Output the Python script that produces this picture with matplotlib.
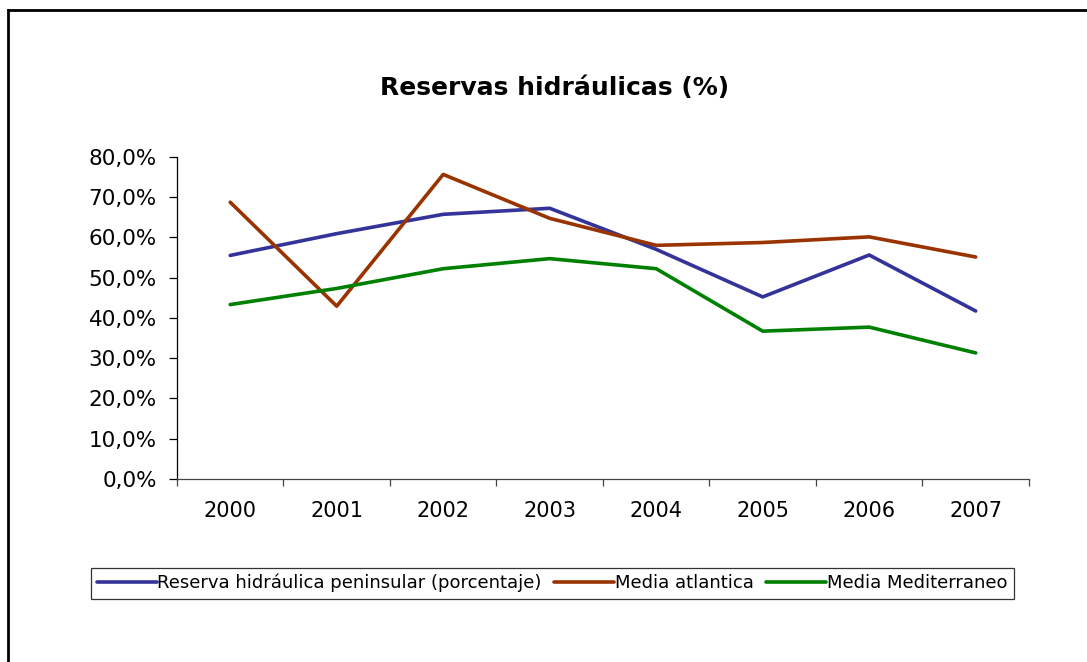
import matplotlib
matplotlib.use("Agg")
import matplotlib.pyplot as plt
from matplotlib.lines import Line2D

years = ["2000", "2001", "2002", "2003", "2004", "2005", "2006", "2007"]
peninsular = [55.5, 60.9, 65.7, 67.2, 57.0, 45.2, 55.6, 41.7]
atlantica = [68.7, 42.9, 75.6, 64.7, 58.0, 58.7, 60.1, 55.1]
mediterraneo = [43.3, 47.3, 52.2, 54.7, 52.2, 36.7, 37.7, 31.3]
y_ticks = [0, 10, 20, 30, 40, 50, 60, 70, 80]

plt.rcParams['font.family'] = ['DejaVu Sans']

fig = plt.figure(figsize=(10.87, 6.62), dpi=100)
ax = fig.add_axes([0.1628, 0.2764, 0.7838, 0.4869])

x = range(len(years))
ax.plot(x, peninsular, color='#333399', lw=2.6, solid_capstyle='round',
        label='Reserva hidráulica peninsular (porcentaje)')
ax.plot(x, atlantica, color='#993300', lw=2.6, solid_capstyle='round',
        label='Media atlantica')
ax.plot(x, mediterraneo, color='#008000', lw=2.6, solid_capstyle='round',
        label='Media Mediterraneo')

ax.set_xlim(-0.5, len(years) - 0.5)
ax.set_ylim(0, 80)
ax.set_yticks(y_ticks)
ax.set_yticklabels([f"{v:.1f}%".replace('.', ',') for v in y_ticks], fontsize=15.5)
ax.tick_params(axis='y', direction='out', length=5.5, width=0.9, pad=9)

# category boundaries get the tick marks, centres get the labels
ax.set_xticks([i - 0.5 for i in range(len(years) + 1)])
ax.set_xticklabels([])
ax.set_xticks(list(x), minor=True)
ax.set_xticklabels(years, minor=True, fontsize=15)
ax.tick_params(axis='x', which='major', direction='out', length=5, width=0.9, color='#444444')
ax.tick_params(axis='x', which='minor', length=0, pad=16)

for s in ['top', 'right']:
    ax.spines[s].set_visible(False)
ax.spines['left'].set_linewidth(0.9)
ax.spines['bottom'].set_linewidth(0.9)
ax.spines['bottom'].set_color('#444444')

fig.text(0.51, 0.867, 'Reservas hidráulicas (%)', ha='center', va='center',
         fontsize=18, fontweight='bold')

leg = fig.legend(loc='center', bbox_to_anchor=(0.508, 0.119), ncol=3, fontsize=13,
                 frameon=True, fancybox=False, handlelength=3.3, handletextpad=0.05,
                 columnspacing=0.7, borderpad=0.35, borderaxespad=0)
leg.get_frame().set_edgecolor('black')
leg.get_frame().set_linewidth(0.9)

# outer chart border (only left and top visible in the crop)
fig.add_artist(Line2D([0.0075, 0.0075], [0, 0.985], color='black', lw=2, transform=fig.transFigure))
fig.add_artist(Line2D([0.0075, 1.0], [0.985, 0.985], color='black', lw=2, transform=fig.transFigure))

fig.savefig('out.png', dpi=100)
